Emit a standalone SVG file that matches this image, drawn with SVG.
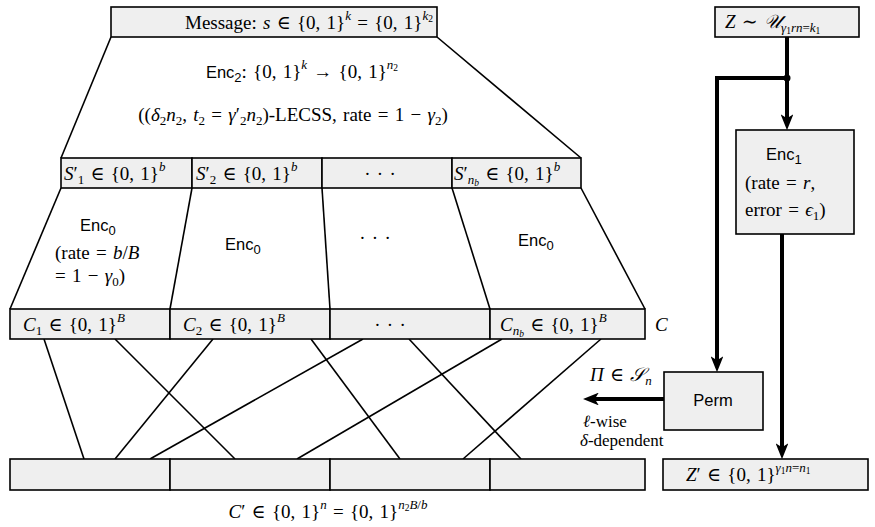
<svg xmlns="http://www.w3.org/2000/svg" width="875" height="527" viewBox="0 0 875 527">
<style>
.box{fill:#efefef;stroke:#000;stroke-width:1.6}
.ln{fill:none;stroke:#000;stroke-width:1.6}
.th{fill:none;stroke:#000;stroke-width:4}
.t{font-family:"Liberation Serif","DejaVu Serif",serif;font-size:19px;word-spacing:1.5px;fill:#000}
.s{font-family:"Liberation Sans","DejaVu Sans",sans-serif;font-size:16.5px}
.i{font-style:italic}
.sm{font-size:13px}
.xs{font-size:9.5px}
.lb{font-size:17px}
</style>
<defs>
<marker id="ah" viewBox="0 0 10 8" refX="3" refY="4" markerWidth="4" markerHeight="3.2" orient="auto">
<path d="M0,0 L10,4 L0,8 L2.5,4 z" fill="#000"/>
</marker>
</defs>
<rect width="875" height="527" fill="#fff"/>

<g id="connectors">
<line class="ln" x1="111" y1="37" x2="61" y2="158"/>
<line class="ln" x1="437" y1="37" x2="581" y2="158"/>
<line class="ln" x1="61" y1="188" x2="10" y2="309"/>
<line class="ln" x1="192" y1="188" x2="170" y2="309"/>
<line class="ln" x1="322" y1="188" x2="330" y2="309"/>
<line class="ln" x1="452" y1="188" x2="490" y2="309"/>
<line class="ln" x1="581" y1="188" x2="645" y2="309"/>
<line class="ln" x1="44" y1="339" x2="84" y2="459"/>
<line class="ln" x1="115" y1="339" x2="235" y2="459"/>
<line class="ln" x1="213" y1="339" x2="115" y2="459"/>
<line class="ln" x1="311" y1="339" x2="400" y2="459"/>
<line class="ln" x1="363" y1="339" x2="150" y2="459"/>
<line class="ln" x1="409" y1="339" x2="521" y2="459"/>
<line class="ln" x1="502" y1="339" x2="297" y2="459"/>
<line class="ln" x1="601" y1="339" x2="463" y2="459"/>
<line class="th" x1="787" y1="37" x2="787" y2="119" marker-end="url(#ah)"/>
<polyline class="th" points="787,78 717,78 717,361" marker-end="url(#ah)"/>
<circle cx="787" cy="78" r="3.5" fill="#000"/>
<line class="th" x1="782" y1="234" x2="782" y2="448" marker-end="url(#ah)"/>
<line class="th" x1="664" y1="399" x2="594" y2="399" marker-end="url(#ah)"/>
</g>

<g id="message">
<rect class="box" x="111" y="7" width="326" height="30"/>
<text class="t" x="309" y="29" text-anchor="middle">Message:  <tspan class="i">s</tspan> ∈ {0, 1}<tspan class="sm i" dy="-9">k</tspan><tspan dy="9"> = {0, 1}</tspan><tspan class="sm i" dy="-9">k</tspan><tspan class="xs" dy="2">2</tspan></text>
</g>

<g id="enc2">
<text class="t" x="302" y="78" text-anchor="middle"><tspan class="s">Enc</tspan><tspan class="s sm" dy="4">2</tspan><tspan dy="-4">: {0, 1}</tspan><tspan class="sm i" dy="-9">k</tspan><tspan dy="9"> → {0, 1}</tspan><tspan class="sm i" dy="-9">n</tspan><tspan class="xs" dy="2">2</tspan></text>
<text class="t" x="293" y="121" text-anchor="middle">((<tspan class="i">δ</tspan><tspan class="sm" dy="4">2</tspan><tspan class="i" dy="-4">n</tspan><tspan class="sm" dy="4">2</tspan><tspan dy="-4">, </tspan><tspan class="i">t</tspan><tspan class="sm" dy="4">2</tspan><tspan dy="-4"> = </tspan><tspan class="i">γ</tspan><tspan>′</tspan><tspan class="sm" dy="4">2</tspan><tspan class="i" dy="-4">n</tspan><tspan class="sm" dy="4">2</tspan><tspan dy="-4">)-LECSS, rate = 1 − </tspan><tspan class="i">γ</tspan><tspan class="sm" dy="4">2</tspan><tspan dy="-4">)</tspan></text>
</g>

<g id="s1">
<rect class="box" x="61" y="158" width="131" height="30"/>
<text class="t" x="64" y="180"><tspan class="i">S</tspan>′<tspan class="sm" dy="4">1</tspan><tspan dy="-4"> ∈ {0, 1}</tspan><tspan class="sm i" dy="-9">b</tspan></text>
</g>
<g id="s2">
<rect class="box" x="192" y="158" width="130" height="30"/>
<text class="t" x="196" y="180"><tspan class="i">S</tspan>′<tspan class="sm" dy="4">2</tspan><tspan dy="-4"> ∈ {0, 1}</tspan><tspan class="sm i" dy="-9">b</tspan></text>
</g>
<g id="s3">
<rect class="box" x="322" y="158" width="130" height="30"/>
<text class="t" x="380" y="180" text-anchor="middle">· · ·</text>
</g>
<g id="snb">
<rect class="box" x="452" y="158" width="129" height="30"/>
<text class="t" x="454" y="180"><tspan class="i">S</tspan>′<tspan class="sm i" dy="4">n</tspan><tspan class="xs i" dy="2">b</tspan><tspan dy="-6"> ∈ {0, 1}</tspan><tspan class="sm i" dy="-9">b</tspan></text>
</g>

<g id="enc0a">
<text class="t" x="80" y="231"><tspan class="s">Enc</tspan><tspan class="s sm" dy="4">0</tspan></text>
<text class="t" x="55" y="259">(rate = <tspan class="i">b</tspan>/<tspan class="i">B</tspan></text>
<text class="t" x="55" y="282">= 1 − <tspan class="i">γ</tspan><tspan class="sm" dy="4">0</tspan><tspan dy="-4">)</tspan></text>
</g>
<g id="enc0b">
<text class="t" x="225" y="250"><tspan class="s">Enc</tspan><tspan class="s sm" dy="4">0</tspan></text>
</g>
<g id="enc0c">
<text class="t" x="375" y="244" text-anchor="middle">· · ·</text>
</g>
<g id="enc0d">
<text class="t" x="518" y="246"><tspan class="s">Enc</tspan><tspan class="s sm" dy="4">0</tspan></text>
</g>

<g id="c1">
<rect class="box" x="10" y="309" width="160" height="30"/>
<text class="t" x="23" y="331"><tspan class="i">C</tspan><tspan class="sm" dy="4">1</tspan><tspan dy="-4"> ∈ {0, 1}</tspan><tspan class="sm i" dy="-9">B</tspan></text>
</g>
<g id="c2">
<rect class="box" x="170" y="309" width="160" height="30"/>
<text class="t" x="183" y="331"><tspan class="i">C</tspan><tspan class="sm" dy="4">2</tspan><tspan dy="-4"> ∈ {0, 1}</tspan><tspan class="sm i" dy="-9">B</tspan></text>
</g>
<g id="c3">
<rect class="box" x="330" y="309" width="160" height="30"/>
<text class="t" x="390" y="331" text-anchor="middle">· · ·</text>
</g>
<g id="cnb">
<rect class="box" x="490" y="309" width="155" height="30"/>
<text class="t" x="500" y="331"><tspan class="i">C</tspan><tspan class="sm i" dy="4">n</tspan><tspan class="xs i" dy="2">b</tspan><tspan dy="-6"> ∈ {0, 1}</tspan><tspan class="sm i" dy="-9">B</tspan></text>
<text class="t i" x="655" y="331">C</text>
</g>

<g id="cprime">
<rect class="box" x="10" y="459" width="160" height="31"/>
<rect class="box" x="170" y="459" width="160" height="31"/>
<rect class="box" x="330" y="459" width="160" height="31"/>
<rect class="box" x="490" y="459" width="155" height="31"/>
<text class="t" x="328" y="518" text-anchor="middle"><tspan class="i">C</tspan>′ ∈ {0, 1}<tspan class="sm i" dy="-9">n</tspan><tspan dy="9"> = {0, 1}</tspan><tspan class="sm i" dy="-9">n</tspan><tspan class="xs" dy="2">2</tspan><tspan class="sm i" dy="-2">B</tspan><tspan class="sm">/</tspan><tspan class="sm i">b</tspan></text>
</g>

<g id="z">
<rect class="box" x="715" y="7" width="144" height="30"/>
<text class="t" x="725" y="28"><tspan class="i">Z</tspan> ∼ <tspan class="i">𝒰</tspan><tspan class="sm i" dy="4">γ</tspan><tspan class="xs" dy="2">1</tspan><tspan class="sm i" dy="-2">rn</tspan><tspan class="sm">=</tspan><tspan class="sm i">k</tspan><tspan class="xs" dy="2">1</tspan></text>
</g>

<g id="enc1">
<rect class="box" x="736" y="130" width="118" height="104"/>
<text class="t" x="766" y="160"><tspan class="s">Enc</tspan><tspan class="s sm" dy="4">1</tspan></text>
<text class="t" x="745" y="189">(rate = <tspan class="i">r</tspan>,</text>
<text class="t" x="745" y="216">error = <tspan class="i">ϵ</tspan><tspan class="sm" dy="4">1</tspan><tspan dy="-4">)</tspan></text>
</g>

<g id="perm">
<rect class="box" x="664" y="372" width="99" height="58"/>
<text class="t s" x="713" y="406" text-anchor="middle">Perm</text>
<text class="t" x="590" y="381"><tspan class="i">Π</tspan> ∈ <tspan class="i">𝒮</tspan><tspan class="sm i" dy="4">n</tspan></text>
<text class="t lb" x="583" y="427"><tspan class="i">ℓ</tspan>-wise</text>
<text class="t lb" x="580" y="446"><tspan class="i">δ</tspan>-dependent</text>
</g>

<g id="zprime">
<rect class="box" x="663" y="459" width="205" height="31"/>
<text class="t" x="686" y="481"><tspan class="i">Z</tspan>′ ∈ {0, 1}<tspan class="sm i" dy="-9">γ</tspan><tspan class="xs" dy="2">1</tspan><tspan class="sm i" dy="-2">n</tspan><tspan class="sm">=</tspan><tspan class="sm i">n</tspan><tspan class="xs" dy="2">1</tspan></text>
</g>
</svg>
